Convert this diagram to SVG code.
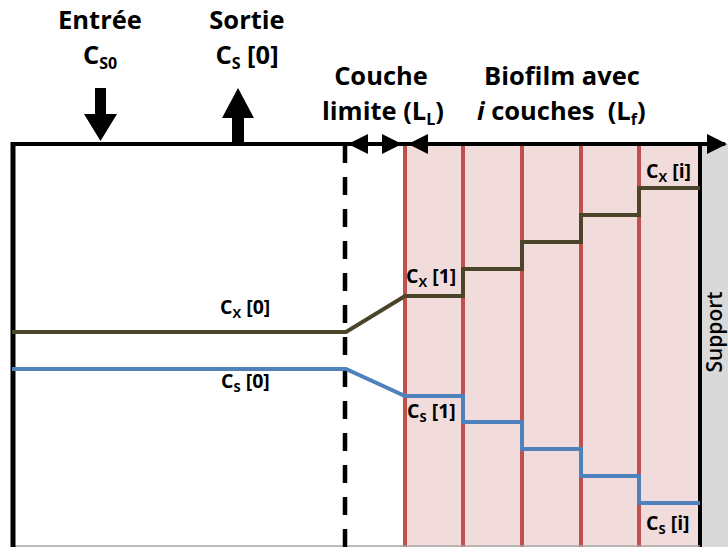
<svg xmlns="http://www.w3.org/2000/svg" width="728" height="547" viewBox="0 0 728 547">
<style>
.t{font-family:"Open Sans","Liberation Sans",sans-serif;font-weight:700;fill:#000}
.big{font-size:25.5px}
.lab{font-size:19.5px}
.sub{font-size:13px}
.red{stroke:#c0504d;stroke-width:4}
.blk{stroke:#000;stroke-width:4;fill:none}
</style>
<rect width="728" height="547" fill="#fff"/>
<g id="biofilm">
<rect x="405" y="144" width="295" height="403" fill="#f2dcdb"/>
<line class="red" x1="405" y1="144" x2="405" y2="547"/>
<line class="red" x1="463" y1="144" x2="463" y2="547"/>
<line class="red" x1="522" y1="144" x2="522" y2="547"/>
<line class="red" x1="581" y1="144" x2="581" y2="547"/>
<line class="red" x1="639" y1="144" x2="639" y2="547"/>
</g>
<g id="support">
<rect x="700" y="144" width="28" height="403" fill="#d9d9d9"/>
<line x1="700" y1="144" x2="700" y2="547" stroke="#000" stroke-width="4"/>
<text class="t" style="font-weight:600;font-size:21px" transform="translate(722,332) rotate(-90)" text-anchor="middle">Support</text>
</g>
<g id="reactor">
<line x1="12" y1="546" x2="700" y2="546" stroke="#a6a6a6" stroke-width="1.5"/>
<line x1="13" y1="142" x2="13" y2="547" stroke="#000" stroke-width="5"/>
<line x1="345" y1="145" x2="345" y2="547" stroke="#000" stroke-width="4.5" stroke-dasharray="18 14"/>
</g>
<g id="connectors">
<path d="M11,144 H725" class="blk"/>
<path d="M727,144 L707,134 L707,154 Z" fill="#000"/>
<path d="M348,144 L368,134 L368,154 Z" fill="#000"/>
<path d="M402,144 L382,134 L382,154 Z" fill="#000"/>
<path d="M408,144 L428,134 L428,154 Z" fill="#000"/>
<path d="M95,88 H106 V114 H117 L100.5,141 L84,114 H95 Z" fill="#000"/>
<path d="M232,146 H244 V118 H254 L238,88 L222,118 H232 Z" fill="#000"/>
</g>
<g id="cx-profile">
<path d="M12,332 H346 L405,296 H463 V269 H522 V242 H581 V215 H639 V188 H700" fill="none" stroke="#4a452a" stroke-width="4"/>
</g>
<g id="cs-profile">
<path d="M12,369 H346 L405,396 H463 V422 H522 V449 H581 V476 H639 V503 H700" fill="none" stroke="#4f81bd" stroke-width="4"/>
</g>
<g id="labels">
<text class="t big" x="100" y="29" text-anchor="middle">Entrée</text>
<text class="t big" x="100" y="64" text-anchor="middle">C<tspan font-size="16" dy="5">S0</tspan></text>
<text class="t big" x="247" y="29" text-anchor="middle">Sortie</text>
<text class="t big" x="247" y="64" text-anchor="middle">C<tspan font-size="16" dy="5">S</tspan><tspan dy="-5"> [0]</tspan></text>
<text class="t big" x="381" y="85" text-anchor="middle">Couche</text>
<text class="t big" x="383" y="120" text-anchor="middle">limite (L<tspan font-size="16" dy="5">L</tspan><tspan dy="-5">)</tspan></text>
<text class="t big" x="562" y="85" text-anchor="middle">Biofilm avec</text>
<text class="t big" x="477" y="120" xml:space="preserve"><tspan font-style="italic">i</tspan> couches  (L<tspan font-size="16" dy="5">f</tspan><tspan dy="-5">)</tspan></text>
<text class="t lab" x="220" y="314">C<tspan class="sub" dy="4">X</tspan><tspan dy="-4"> [0]</tspan></text>
<text class="t lab" x="221" y="388">C<tspan class="sub" dy="4">S</tspan><tspan dy="-4"> [0]</tspan></text>
<text class="t lab" x="406" y="283">C<tspan class="sub" dy="4">X</tspan><tspan dy="-4"> [1]</tspan></text>
<text class="t lab" x="407" y="418">C<tspan class="sub" dy="4">S</tspan><tspan dy="-4"> [1]</tspan></text>
<text class="t lab" x="646" y="178">C<tspan class="sub" dy="4">X</tspan><tspan dy="-4"> [i]</tspan></text>
<text class="t lab" x="646" y="530">C<tspan class="sub" dy="4">S</tspan><tspan dy="-4"> [i]</tspan></text>
</g>
</svg>
